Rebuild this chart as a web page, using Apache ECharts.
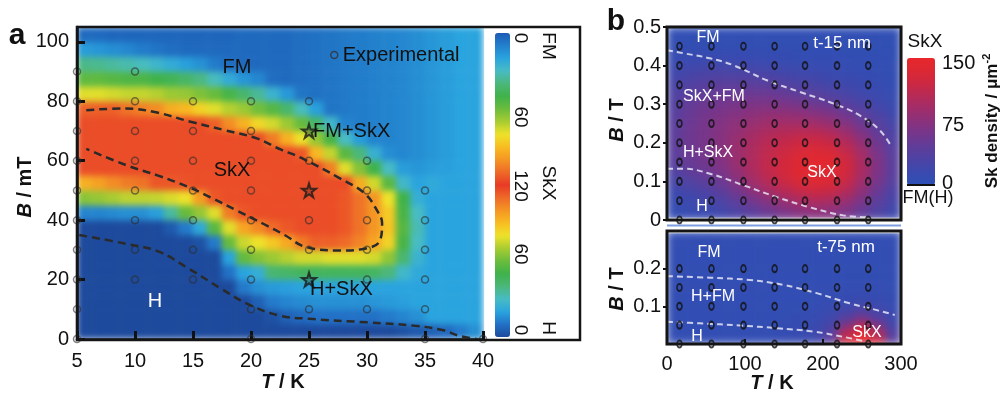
<!DOCTYPE html>
<html><head><meta charset="utf-8">
<script src="https://cdn.jsdelivr.net/npm/echarts@6/dist/echarts.min.js"></script>
<style>html,body{margin:0;padding:0;background:#fff}#c{width:1001px;height:393px;background:#fff}</style>
</head><body><div id="c"></div>
<script>
const FONT = "'Liberation Sans', Arial, sans-serif";

// ---------------- Panel a : phase map (value u: 0 = H, 120 = SkX, 240 = FM) ----------------
const aT = [5.625, 6.875, 8.125, 9.375, 10.625, 11.875, 13.125, 14.375, 15.625, 16.875, 18.125, 19.375, 20.625, 21.875,
            23.125, 24.375, 25.625, 26.875, 28.125, 29.375, 30.625, 31.875, 33.125, 34.375, 35.625, 36.875, 38.125, 39.375];
const aB = [2.5, 7.5, 12.5, 17.5, 22.5, 27.5, 32.5, 37.5, 42.5, 47.5, 52.5, 57.5, 62.5, 67.5, 72.5, 77.5, 82.5, 87.5, 92.5, 97.5, 102.5];
// one column per temperature, B ascending
const aCols = [
  [0,0,0,0,0,0,0,0,14,65,93,116,116,116,116,128,162,183,202,222,236],
  [0,0,0,0,0,0,0,0,14,67,97,116,116,116,116,128,162,183,203,224,236],
  [0,0,0,0,0,0,0,0,15,70,102,116,116,116,116,128,164,185,205,226,237],
  [0,0,0,0,0,0,0,0,16,73,106,116,116,116,116,132,166,187,207,228,237],
  [0,0,0,0,0,0,0,0,16,73,108,116,116,116,116,135,166,187,209,231,237],
  [0,0,0,0,0,0,0,0,19,74,114,116,116,116,116,138,168,190,213,233,237],
  [0,0,0,0,0,0,0,4,35,77,114,116,116,116,116,146,172,192,217,235,237],
  [0,0,0,0,0,0,0,12,59,80,115,116,116,116,116,149,173,196,221,236,237],
  [0,0,0,0,0,0,2,22,67,98,116,116,116,116,116,156,177,201,225,236,237],
  [0,0,0,0,0,0,12,56,78,114,116,116,116,116,128,162,181,209,231,236,237],
  [0,0,0,0,10,20,59,78,106,116,116,116,116,116,138,168,188,217,235,236,237],
  [0,0,0,12,20,58,75,96,114,116,116,116,116,116,147,172,197,224,236,236,236],
  [0,0,6,16,24,64,80,103,116,116,116,116,116,124,157,179,204,228,236,236,236],
  [0,2,12,18,42,68,87,110,116,116,116,116,116,134,164,185,214,235,236,236,236],
  [0,6,14,19,44,72,95,114,116,116,116,116,116,147,172,197,223,236,236,236,236],
  [0,8,15,20,46,76,106,116,116,116,116,116,126,160,181,209,233,235,235,235,235],
  [0,10,16,20,46,76,112,116,116,116,116,116,149,173,196,221,234,234,234,234,234],
  [0,10,16,20,46,78,112,116,116,116,116,135,166,188,212,233,233,233,233,233,233],
  [0,10,16,20,46,78,110,114,114,114,124,162,184,210,229,232,232,232,232,232,232],
  [0,10,16,20,46,78,104,108,108,132,146,176,200,222,231,231,231,231,231,231,231],
  [0,10,17,20,45,76,96,100,100,140,164,190,215,229,230,230,230,230,230,230,230],
  [0,12,18,20,40,66,84,88,86,160,184,210,226,229,229,229,229,229,229,229,229],
  [2,14,19,20,28,42,52,55,52,190,212,222,228,228,228,228,228,228,228,228,228],
  [4,16,20,20,22,26,30,32,30,216,220,224,226,226,226,226,226,226,226,226,226],
  [6,20,20,20,20,20,20,20,20,20,218,222,224,224,224,224,224,224,224,224,224],
  [8,20,20,20,20,20,20,20,20,20,220,221,222,222,222,222,222,222,222,222,222],
  [12,20,20,20,20,20,20,20,20,20,220,220,220,220,220,220,220,220,220,220,220],
  [16,20,20,20,20,20,20,20,20,20,220,220,220,220,220,220,220,220,220,220,220]
];
// experimental points (T -> list of B)
const expT = [5, 10, 15, 20, 25, 30, 35, 40];
const expB = [
  [0,10,20,30,40,50,60,70,80,90],
  [20,30,40,50,60,70,80,90],
  [20,30,40,50,60,70,80],
  [0,10,20,30,40,50,60,70,80],
  [10,30,40,60,80],
  [10,20,30,40,50,60],
  [0,10,20,30,40,50],
  [0]
];
const starT = [25, 25, 25];
const starB = [70, 50, 20];
const skxLine = [[5.8,77],[9.1,77.6],[11.9,76.2],[14.8,73.1],[17.7,70.3],[20.5,67.5],[22.6,63.7],[24.3,61],[27.7,54],[29.8,49],[30.9,43],[31.3,39],[31.1,33],[29.8,30.4],[27.7,29.8],[24.7,31],[22.9,35],[21.1,38.7],[18.8,43.2],[16.5,47.7],[14.5,51.3],[12,55],[9.3,58.4],[5.8,64]];
const hLine = [[5.2,35],[9.3,32],[12,29.5],[14.5,24],[17.4,17],[19.6,12],[22.3,8],[25,6.8],[30,5.6],[34,4.5],[36.5,3],[38,1],[39.5,0]];
const cbarALabels = ['0', '60', '120', '60', '0'];
const cbarAPhases = ['FM', 'SkX', 'H'];

// ---------------- Panel b : Sk density maps ----------------
const bT = [10,30,50,70,90,110,130,150,170,190,210,230,250,270,290];
const bTopB = [0.0125,0.0375,0.0625,0.0875,0.1125,0.1375,0.1625,0.1875,0.2125,0.2375,0.2625,0.2875,0.3125,0.3375,0.3625,0.3875,0.4125,0.4375,0.4625,0.4875];
// rows from B = 0.4875 (top) down to 0.0125
const bTopRows = [
  [4,4,4,4,4,4,4,4,4,4,4,4,4,4,4],
  [5,5,5,5,5,5,5,5,5,5,5,5,5,5,4],
  [8,8,8,8,8,8,7,7,6,6,6,5,5,5,5],
  [12,14,15,15,14,13,12,10,9,8,8,7,6,6,5],
  [18,22,25,26,25,24,22,19,16,14,12,10,8,7,6],
  [24,30,35,37,37,36,34,30,26,22,18,15,12,9,7],
  [30,38,44,47,48,48,47,43,38,33,27,22,17,12,8],
  [34,45,52,56,58,60,60,57,52,46,40,32,24,17,11],
  [38,50,58,63,67,71,73,72,69,64,57,47,36,25,15],
  [40,53,61,68,74,80,85,86,85,82,75,63,48,34,21],
  [42,55,63,71,80,88,95,99,100,99,92,79,61,43,27],
  [43,56,63,73,84,95,104,110,115,117,110,96,75,52,32],
  [43,55,62,73,86,99,110,118,126,130,125,110,87,60,37],
  [42,53,60,71,86,100,113,124,134,140,136,120,95,66,41],
  [38,49,57,68,84,100,114,127,138,145,142,126,98,68,42],
  [30,40,49,60,77,95,110,124,136,142,139,122,94,65,40],
  [22,30,38,49,66,84,100,114,125,131,127,111,85,58,35],
  [15,20,27,37,52,68,83,96,107,112,108,95,72,48,29],
  [10,14,18,26,38,51,64,76,85,90,87,76,58,39,23],
  [8,10,13,19,29,39,50,60,68,72,70,61,46,31,17]
];
const bBotB = [0.0125,0.0375,0.0625,0.0875,0.1125,0.1375,0.1625,0.1875,0.2125,0.2375,0.2625,0.2875];
const bBotRows = [
  [6,6,6,6,6,6,6,6,6,6,6,6,6,6,6],
  [6,6,6,6,6,6,6,6,6,6,6,6,6,6,6],
  [6,6,6,6,6,6,6,6,6,6,6,6,6,6,6],
  [6,6,6,6,6,6,6,6,6,6,6,6,6,6,6],
  [6,6,6,6,6,6,6,6,6,6,6,6,6,6,6],
  [6,6,6,6,6,6,6,6,6,6,6,7,7,7,6],
  [6,6,6,6,6,6,6,6,6,6,7,8,9,8,7],
  [6,6,6,6,6,6,6,6,6,7,9,12,15,12,9],
  [6,6,6,6,6,6,6,6,7,9,13,22,32,22,12],
  [6,6,6,6,6,6,6,7,8,11,20,45,70,44,18],
  [6,6,6,6,6,6,7,8,10,14,32,90,140,88,30],
  [6,6,6,6,6,6,7,9,12,18,44,125,150,120,40]
];
const bCircT = [16, 57, 98, 138, 177, 218, 258];
const bTopCircB = [0, 0.05, 0.1, 0.15, 0.2, 0.25, 0.3, 0.35, 0.4, 0.45];
const bBotCircB = [0, 0.05, 0.1, 0.15, 0.2];
const bTopUpper = [[0,0.44],[21,0.432],[55,0.419],[85,0.401],[128,0.362],[170,0.332],[213,0.302],[247,0.271],[273,0.232],[288,0.189]];
const bTopLower = [[0,0.133],[21,0.133],[55,0.12],[98,0.09],[141,0.059],[183,0.033],[226,0.012],[256,0.007]];
const bBotUpper = [[0,0.18],[55,0.176],[106,0.17],[149,0.157],[192,0.135],[234,0.108],[269,0.09],[292,0.077]];
const bBotLower = [[0,0.059],[42,0.055],[94,0.049],[141,0.042],[188,0.033],[226,0.019],[256,0.006]];
const cbarBLabels = ['150', '75', '0'];

// ---------------- build data ----------------
const aData = [];
aCols.forEach((col, i) => col.forEach((v, j) => aData.push([i, j, v])));
const expData = [];
expT.forEach((t, i) => expB[i].forEach(b => expData.push([t, b])));
const starData = starT.map((t, i) => [t, starB[i]]);
const bTopData = [];
bTopRows.forEach((row, r) => row.forEach((v, c) => bTopData.push([c, bTopRows.length - 1 - r, v])));
const bBotData = [];
bBotRows.forEach((row, r) => row.forEach((v, c) => bBotData.push([c, bBotRows.length - 1 - r, v])));
const bTopCirc = [], bBotCirc = [];
bTopCircB.forEach(b => bCircT.forEach(t => bTopCirc.push([t, b])));
bBotCircB.forEach(b => bCircT.forEach(t => bBotCirc.push([t, b])));

const rampA = ['#1d4a9c','#2271c6','#2aa4de','#48bcc4','#4cb77a','#3fb24a','#6cbc3c','#a8cc32','#eee22a','#f8bc22','#f49624','#ee6a28','#e83a26',
  '#ee6a28','#f49624','#f8bc22','#eee22a','#a8cc32','#6cbc3c','#3fb24a','#4cb77a','#48bcc4','#2aa4de','#2280cc','#1d5bb5'];
const rampB = ['#2c50b6','#3b49ae','#4c43a4','#5f3d9a','#74368c','#8a317c','#a02d6a','#b62a56','#cc2842','#dc2834','#e8272b'];

const TOP = 5; // zlevel of everything drawn above the colour maps
const catAxis = (grid, data, pos) => ({type:'category', gridIndex:grid, data:data.map(String), show:false, position:pos, zlevel:TOP});
const lbl = {fontSize:20, color:'#111', fontFamily:FONT};
const dashBlack = {color:'#2a2a2a', width:2.5, type:[8,5]};
const dashWhite = {color:'rgba(230,230,245,0.85)', width:2, type:[6,4]};
const circB = {color:'transparent', borderColor:'#111', borderWidth:1.8};

function txt(x, y, text, o) {
  o = o || {};
  return {type:'text', x:x, y:y, rotation:o.rot || 0, zlevel:TOP, z:110,
    style:{text:text, fill:o.fill || '#111', font:(o.weight || 'normal') + ' ' + (o.size || 20) + 'px ' + FONT,
      align:o.align || 'center', verticalAlign:'middle', textAlign:o.align || 'center', textVerticalAlign:'middle', rich:o.rich}};
}
function mask(x, y, w, h, lw) {
  const d = lw / 2 + 1.2;
  return {type:'rect', zlevel:TOP - 1, shape:{x:x - d, y:y - d, width:w + 2 * d, height:h + 2 * d}, style:{fill:'none', stroke:'#fff', lineWidth:lw}};
}
const richI = {i:{fontStyle:'italic', fontWeight:'bold', fontSize:20, fontFamily:FONT}};

const graphics = [
  mask(77, 27, 406, 312, 14), mask(667, 27, 234, 193, 12), mask(667, 231, 234, 113, 12),
  {type:'rect', zlevel:TOP, shape:{x:77, y:27, width:503, height:313}, style:{fill:'none', stroke:'#151515', lineWidth:2.5}, z:100},
  {type:'rect', zlevel:TOP, shape:{x:667, y:27, width:234, height:193}, style:{fill:'none', stroke:'#151515', lineWidth:3}, z:100},
  {type:'rect', zlevel:TOP, shape:{x:667, y:231, width:234, height:113}, style:{fill:'none', stroke:'#151515', lineWidth:3}, z:100},
  {type:'line', zlevel:TOP, shape:{x1:667, y1:225.5, x2:901, y2:225.5}, style:{stroke:'#7d9ee0', lineWidth:2}, z:100},
  {type:'line', zlevel:TOP, shape:{x1:907, y1:185, x2:935, y2:185}, style:{stroke:'#111', lineWidth:2}, z:100},
  txt(17, 36, 'a', {weight:'bold', size:30}),
  txt(616, 22, 'b', {weight:'bold', size:30}),
  txt(237, 67, 'FM'), txt(232, 170, 'SkX'), txt(155, 301, 'H', {fill:'#fff'}),
  txt(313, 131, 'FM+SkX', {align:'left'}), txt(310, 289, 'H+SkX', {align:'left'}),
  txt(25, 187, '{i|B} / mT', {rot:Math.PI/2, weight:'bold', rich:richI}),
  txt(283, 382, '{i|T} / K', {weight:'bold', rich:richI}),
  txt(617, 120, '{i|B} / T', {rot:Math.PI/2, weight:'bold', rich:richI}),
  txt(617, 289, '{i|B} / T', {rot:Math.PI/2, weight:'bold', rich:richI}),
  txt(772, 383, '{i|T} / K', {weight:'bold', rich:richI}),
  // colorbar a labels
  txt(520, 38, cbarALabels[0], {rot:-Math.PI/2, size:19}),
  txt(520, 117, cbarALabels[1], {rot:-Math.PI/2, size:19}),
  txt(520, 186, cbarALabels[2], {rot:-Math.PI/2, size:19}),
  txt(520, 254, cbarALabels[3], {rot:-Math.PI/2, size:19}),
  txt(520, 330, cbarALabels[4], {rot:-Math.PI/2, size:19}),
  txt(548, 46, cbarAPhases[0], {rot:-Math.PI/2, size:19}),
  txt(548, 183, cbarAPhases[1], {rot:-Math.PI/2, size:19}),
  txt(548, 328, cbarAPhases[2], {rot:-Math.PI/2, size:19}),
  // panel b annotations
  txt(708, 38, 'FM', {fill:'#fff', size:16}), txt(842, 43, 't-15 nm', {fill:'#fff', size:17}),
  txt(714, 97, 'SkX+FM', {fill:'#fff', size:16}), txt(708, 153, 'H+SkX', {fill:'#fff', size:16}),
  txt(822, 173, 'SkX', {fill:'#fff', size:16}), txt(702, 207, 'H', {fill:'#fff', size:16}),
  txt(846, 247, 't-75 nm', {fill:'#fff', size:17}), txt(709, 253, 'FM', {fill:'#fff', size:16}),
  txt(713, 297, 'H+FM', {fill:'#fff', size:16}), txt(697, 337, 'H', {fill:'#fff', size:16}),
  txt(867, 333, 'SkX', {fill:'#fff', size:16}),
  // colorbar b labels
  txt(925, 42, 'SkX', {size:19}),
  txt(942, 63, cbarBLabels[0], {align:'left'}),
  txt(942, 125, cbarBLabels[1], {align:'left'}),
  txt(942, 183, cbarBLabels[2], {align:'left'}),
  txt(928, 198, 'FM(H)', {size:18}),
  txt(992, 121, '{a|Sk density / μm}{s|-2}', {rot:Math.PI/2, weight:'bold', size:17,
    rich:{a:{fontSize:17, fontWeight:'bold', fontFamily:FONT, lineHeight:22}, s:{fontSize:11, fontWeight:'bold', fontFamily:FONT, verticalAlign:'top', lineHeight:12}}})
];

const option = {
  animation:false,
  grid:[
    {left:77, top:27, width:406, height:312},
    {left:667, top:27, width:234, height:193},
    {left:667, top:231, width:234, height:113}
  ],
  xAxis:[
    catAxis(0, aT, 'top'),
    {type:'value', gridIndex:0, position:'bottom', zlevel:TOP, min:5, max:40, interval:5, splitLine:{show:false},
      axisLine:{show:true, lineStyle:{color:'#111', width:2.5}},
      axisTick:{inside:true, length:8, lineStyle:{color:'#111', width:3}},
      axisLabel:Object.assign({margin:12}, lbl)},
    catAxis(1, bT, 'top'),
    {type:'value', gridIndex:1, position:'bottom', zlevel:TOP, min:0, max:300, interval:100, splitLine:{show:false}, axisLine:{show:false}, axisTick:{show:false}, axisLabel:{show:false}},
    catAxis(2, bT, 'top'),
    {type:'value', gridIndex:2, position:'bottom', zlevel:TOP, min:0, max:300, interval:100, splitLine:{show:false}, axisLine:{show:false},
      axisTick:{inside:true, length:5, lineStyle:{color:'#111', width:2}},
      axisLabel:Object.assign({margin:10}, lbl)}
  ],
  yAxis:[
    catAxis(0, aB, 'right'),
    {type:'value', gridIndex:0, position:'left', zlevel:TOP, min:0, max:105, interval:20, splitLine:{show:false},
      axisLine:{show:true, lineStyle:{color:'#111', width:2.5}},
      axisTick:{inside:true, length:8, lineStyle:{color:'#111', width:3}},
      axisLabel:Object.assign({margin:8, showMaxLabel:false}, lbl)},
    catAxis(1, bTopB, 'right'),
    {type:'value', gridIndex:1, position:'left', zlevel:TOP, min:0, max:0.5, interval:0.1, splitLine:{show:false}, axisLine:{show:false},
      axisTick:{show:true, length:4, lineStyle:{color:'#111', width:2}},
      axisLabel:Object.assign({margin:6}, lbl)},
    catAxis(2, bBotB, 'right'),
    {type:'value', gridIndex:2, position:'left', zlevel:TOP, min:0, max:0.3, interval:0.1, splitLine:{show:false}, axisLine:{show:false},
      axisTick:{show:true, length:4, lineStyle:{color:'#111', width:2}},
      axisLabel:Object.assign({margin:6, showMinLabel:false, showMaxLabel:false}, lbl)}
  ],
  visualMap:[
    {type:'continuous', seriesIndex:0, min:0, max:240, inRange:{color:rampA}, calculable:false, zlevel:TOP,
      left:495, top:33, itemWidth:15, itemHeight:304, padding:0, text:null, hoverLink:false},
    {type:'continuous', seriesIndex:[1,2], min:0, max:150, inRange:{color:rampB}, calculable:false, zlevel:TOP,
      left:907, top:58, itemWidth:28, itemHeight:127, padding:0, text:null, hoverLink:false}
  ],
  legend:{data:[{name:'Experimental', icon:'circle', itemStyle:{color:'transparent', borderColor:'#333', borderWidth:1.5}}],
    left:330, top:45, itemWidth:7, itemHeight:7, padding:0, selectedMode:false, zlevel:TOP,
    textStyle:{fontSize:20, color:'#111', fontFamily:FONT}},
  series:[
    {type:'heatmap', xAxisIndex:0, yAxisIndex:0, data:aData, silent:true, progressive:0, zlevel:1},
    {type:'heatmap', xAxisIndex:2, yAxisIndex:2, data:bTopData, silent:true, progressive:0, zlevel:2},
    {type:'heatmap', xAxisIndex:4, yAxisIndex:4, data:bBotData, silent:true, progressive:0, zlevel:2},
    {type:'line', xAxisIndex:1, yAxisIndex:1, data:skxLine, smooth:0.4, symbol:'none', lineStyle:dashBlack, silent:true, zlevel:TOP, z:4},
    {type:'line', xAxisIndex:1, yAxisIndex:1, data:hLine, smooth:0.4, symbol:'none', lineStyle:dashBlack, silent:true, zlevel:TOP, z:4},
    {type:'scatter', name:'Experimental', xAxisIndex:1, yAxisIndex:1, data:expData, symbol:'circle', symbolSize:7, clip:false,
      itemStyle:{color:'transparent', borderColor:'rgba(45,45,45,0.75)', borderWidth:1.5}, silent:true, zlevel:TOP, z:5},
    {type:'scatter', name:'stars', xAxisIndex:1, yAxisIndex:1, data:starData, symbolSize:14, clip:false,
      symbol:'path://M50,0 L61,35 L98,35 L68,57 L79,91 L50,70 L21,91 L32,57 L2,35 L39,35 Z',
      itemStyle:{color:'rgba(30,30,30,0.3)', borderColor:'#1a1a1a', borderWidth:2}, silent:true, zlevel:TOP, z:5},
    {type:'line', xAxisIndex:3, yAxisIndex:3, data:bTopUpper, smooth:0.4, symbol:'none', lineStyle:dashWhite, silent:true, zlevel:TOP, z:4},
    {type:'line', xAxisIndex:3, yAxisIndex:3, data:bTopLower, smooth:0.4, symbol:'none', lineStyle:dashWhite, silent:true, zlevel:TOP, z:4},
    {type:'line', xAxisIndex:5, yAxisIndex:5, data:bBotUpper, smooth:0.4, symbol:'none', lineStyle:dashWhite, silent:true, zlevel:TOP, z:4},
    {type:'line', xAxisIndex:5, yAxisIndex:5, data:bBotLower, smooth:0.4, symbol:'none', lineStyle:dashWhite, silent:true, zlevel:TOP, z:4},
    {type:'scatter', xAxisIndex:3, yAxisIndex:3, data:bTopCirc, symbol:'circle', symbolSize:[5,7], clip:false, itemStyle:circB, silent:true, zlevel:TOP, z:5},
    {type:'scatter', xAxisIndex:5, yAxisIndex:5, data:bBotCirc, symbol:'circle', symbolSize:[5,7], clip:false, itemStyle:circB, silent:true, zlevel:TOP, z:5}
  ],
  graphic:{elements:graphics}
};
const chart = echarts.init(document.getElementById('c'), null, {renderer:'canvas'});
chart.setOption(option);
// soften the cell edges of the colour maps (display only)
try {
  const painter = chart.getZr().painter;
  painter.getLayer(1).dom.style.filter = 'blur(3px)';
  painter.getLayer(2).dom.style.filter = 'blur(4px)';
} catch (e) {}
</script></body></html>
